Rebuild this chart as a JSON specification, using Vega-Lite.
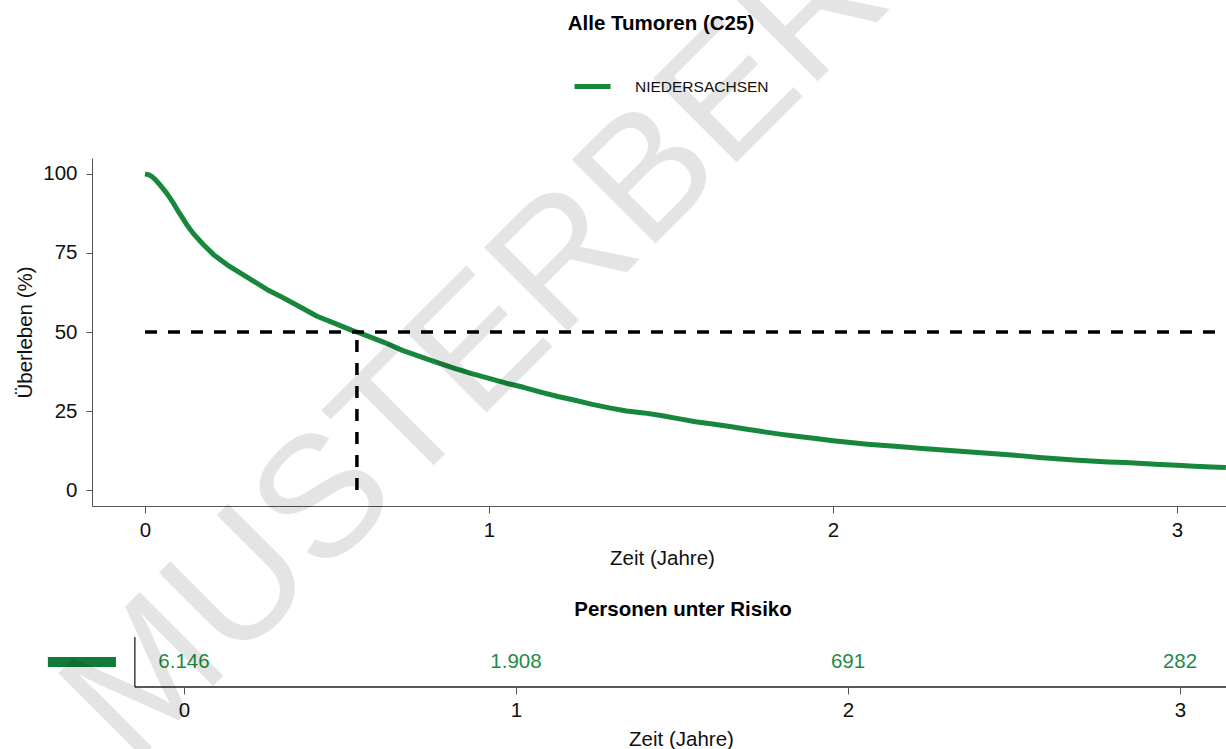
{
  "$schema": "https://vega.github.io/schema/vega-lite/v6.json",
  "background": "white",
  "autosize": {"type": "none"},
  "padding": {"left": 92, "top": 158, "right": 1134, "bottom": 591},
  "config": {
    "font": "Liberation Sans",
    "view": {"stroke": null},
    "axis": {
      "labelFont": "Liberation Sans",
      "titleFont": "Liberation Sans",
      "labelFontSize": 20.5,
      "titleFontSize": 20.5,
      "labelColor": "#111111",
      "titleColor": "#111111",
      "titleFontWeight": "normal",
      "grid": false
    }
  },
  "bounds": "flush",
  "spacing": 131,
  "datasets": {
    "km": [
      {"t": 0, "s": 100, "region": "NIEDERSACHSEN"},
      {"t": 0.01, "s": 99.8, "region": "NIEDERSACHSEN"},
      {"t": 0.02, "s": 99.2, "region": "NIEDERSACHSEN"},
      {"t": 0.03, "s": 98.2, "region": "NIEDERSACHSEN"},
      {"t": 0.04, "s": 97.0, "region": "NIEDERSACHSEN"},
      {"t": 0.05, "s": 95.7, "region": "NIEDERSACHSEN"},
      {"t": 0.064, "s": 93.8, "region": "NIEDERSACHSEN"},
      {"t": 0.08, "s": 91.2, "region": "NIEDERSACHSEN"},
      {"t": 0.1, "s": 87.6, "region": "NIEDERSACHSEN"},
      {"t": 0.12, "s": 84.2, "region": "NIEDERSACHSEN"},
      {"t": 0.14, "s": 81.2, "region": "NIEDERSACHSEN"},
      {"t": 0.17, "s": 77.6, "region": "NIEDERSACHSEN"},
      {"t": 0.2, "s": 74.4, "region": "NIEDERSACHSEN"},
      {"t": 0.24, "s": 71.2, "region": "NIEDERSACHSEN"},
      {"t": 0.28, "s": 68.5, "region": "NIEDERSACHSEN"},
      {"t": 0.32, "s": 65.8, "region": "NIEDERSACHSEN"},
      {"t": 0.36, "s": 63.1, "region": "NIEDERSACHSEN"},
      {"t": 0.4, "s": 60.9, "region": "NIEDERSACHSEN"},
      {"t": 0.45, "s": 58.0, "region": "NIEDERSACHSEN"},
      {"t": 0.5, "s": 55.0, "region": "NIEDERSACHSEN"},
      {"t": 0.55, "s": 52.8, "region": "NIEDERSACHSEN"},
      {"t": 0.6, "s": 50.6, "region": "NIEDERSACHSEN"},
      {"t": 0.616, "s": 50.0, "region": "NIEDERSACHSEN"},
      {"t": 0.65, "s": 48.6, "region": "NIEDERSACHSEN"},
      {"t": 0.7, "s": 46.5, "region": "NIEDERSACHSEN"},
      {"t": 0.75, "s": 44.1, "region": "NIEDERSACHSEN"},
      {"t": 0.8, "s": 42.2, "region": "NIEDERSACHSEN"},
      {"t": 0.85, "s": 40.3, "region": "NIEDERSACHSEN"},
      {"t": 0.9, "s": 38.5, "region": "NIEDERSACHSEN"},
      {"t": 0.95, "s": 36.8, "region": "NIEDERSACHSEN"},
      {"t": 1.0, "s": 35.3, "region": "NIEDERSACHSEN"},
      {"t": 1.05, "s": 33.8, "region": "NIEDERSACHSEN"},
      {"t": 1.1, "s": 32.5, "region": "NIEDERSACHSEN"},
      {"t": 1.15, "s": 31.0, "region": "NIEDERSACHSEN"},
      {"t": 1.2, "s": 29.6, "region": "NIEDERSACHSEN"},
      {"t": 1.25, "s": 28.4, "region": "NIEDERSACHSEN"},
      {"t": 1.3, "s": 27.1, "region": "NIEDERSACHSEN"},
      {"t": 1.35, "s": 26.0, "region": "NIEDERSACHSEN"},
      {"t": 1.4, "s": 25.0, "region": "NIEDERSACHSEN"},
      {"t": 1.45, "s": 24.4, "region": "NIEDERSACHSEN"},
      {"t": 1.5, "s": 23.6, "region": "NIEDERSACHSEN"},
      {"t": 1.55, "s": 22.6, "region": "NIEDERSACHSEN"},
      {"t": 1.6, "s": 21.6, "region": "NIEDERSACHSEN"},
      {"t": 1.65, "s": 20.9, "region": "NIEDERSACHSEN"},
      {"t": 1.7, "s": 20.1, "region": "NIEDERSACHSEN"},
      {"t": 1.75, "s": 19.2, "region": "NIEDERSACHSEN"},
      {"t": 1.8, "s": 18.4, "region": "NIEDERSACHSEN"},
      {"t": 1.85, "s": 17.6, "region": "NIEDERSACHSEN"},
      {"t": 1.9, "s": 16.9, "region": "NIEDERSACHSEN"},
      {"t": 1.95, "s": 16.3, "region": "NIEDERSACHSEN"},
      {"t": 2.0, "s": 15.6, "region": "NIEDERSACHSEN"},
      {"t": 2.05, "s": 15.0, "region": "NIEDERSACHSEN"},
      {"t": 2.1, "s": 14.5, "region": "NIEDERSACHSEN"},
      {"t": 2.15, "s": 14.1, "region": "NIEDERSACHSEN"},
      {"t": 2.2, "s": 13.7, "region": "NIEDERSACHSEN"},
      {"t": 2.25, "s": 13.2, "region": "NIEDERSACHSEN"},
      {"t": 2.3, "s": 12.8, "region": "NIEDERSACHSEN"},
      {"t": 2.35, "s": 12.4, "region": "NIEDERSACHSEN"},
      {"t": 2.4, "s": 12.0, "region": "NIEDERSACHSEN"},
      {"t": 2.45, "s": 11.6, "region": "NIEDERSACHSEN"},
      {"t": 2.5, "s": 11.2, "region": "NIEDERSACHSEN"},
      {"t": 2.55, "s": 10.8, "region": "NIEDERSACHSEN"},
      {"t": 2.6, "s": 10.3, "region": "NIEDERSACHSEN"},
      {"t": 2.65, "s": 9.9, "region": "NIEDERSACHSEN"},
      {"t": 2.7, "s": 9.5, "region": "NIEDERSACHSEN"},
      {"t": 2.75, "s": 9.2, "region": "NIEDERSACHSEN"},
      {"t": 2.8, "s": 8.9, "region": "NIEDERSACHSEN"},
      {"t": 2.85, "s": 8.7, "region": "NIEDERSACHSEN"},
      {"t": 2.9, "s": 8.4, "region": "NIEDERSACHSEN"},
      {"t": 2.95, "s": 8.1, "region": "NIEDERSACHSEN"},
      {"t": 3.0, "s": 7.8, "region": "NIEDERSACHSEN"},
      {"t": 3.05, "s": 7.5, "region": "NIEDERSACHSEN"},
      {"t": 3.1, "s": 7.3, "region": "NIEDERSACHSEN"},
      {"t": 3.142, "s": 7.1, "region": "NIEDERSACHSEN"}
    ],
    "medH": [{"t": 0, "t2": 3.1424, "s": 50}],
    "medV": [{"t": 0.616, "s": 0, "s2": 50}],
    "riskFrame": [
      {"x": -0.148, "xe": -0.148, "y": 0, "ye": 1},
      {"x": -0.148, "xe": 3.1386, "y": 0, "ye": 0}
    ],
    "riskKey": [{"x": -0.41, "xe": -0.205, "y": 0.5, "region": "NIEDERSACHSEN"}],
    "risk": [
      {"x": 0, "n": "6.146"},
      {"x": 1, "n": "1.908"},
      {"x": 2, "n": "691"},
      {"x": 3, "n": "282"}
    ],
    "watermark": [{"x": -0.1566, "y": 2.02, "label": "MUSTERBERICHT"}]
  },
  "vconcat": [
    {
      "width": 1134,
      "height": 348,
      "title": {
        "text": "Alle Tumoren (C25)",
        "frame": "group",
        "anchor": "middle",
        "dx": 2,
        "offset": 108,
        "fontSize": 20.5,
        "fontWeight": "bold",
        "font": "Liberation Sans",
        "color": "#000000",
        "baseline": "alphabetic"
      },
      "encoding": {
        "x": {
          "field": "t",
          "type": "quantitative",
          "scale": {"domain": [-0.1541, 3.1424], "nice": false, "zero": false},
          "axis": {
            "values": [0, 1, 2, 3],
            "format": "d",
            "title": "Zeit (Jahre)",
            "tickSize": 7,
            "labelPadding": 7,
            "domainColor": "#555555",
            "tickColor": "#555555",
            "titleBaseline": "alphabetic",
            "titleY": 58,
            "titleX": 570,
            "labelFlush": false,
            "labelOverlap": false
          }
        },
        "y": {
          "field": "s",
          "type": "quantitative",
          "scale": {"domain": [-5.06, 105.06], "nice": false, "zero": false},
          "axis": {
            "values": [0, 25, 50, 75, 100],
            "format": "d",
            "title": "Überleben (%)",
            "tickSize": 6,
            "labelPadding": 9,
            "domainColor": "#555555",
            "tickColor": "#555555",
            "titleBaseline": "alphabetic",
            "titleX": -61,
            "labelFlush": false,
            "labelOverlap": false
          }
        }
      },
      "layer": [
        {
          "data": {"name": "km"},
          "mark": {"type": "line", "strokeWidth": 5, "strokeCap": "butt", "strokeJoin": "round"},
          "encoding": {
            "color": {
              "field": "region",
              "type": "nominal",
              "scale": {"domain": ["NIEDERSACHSEN"], "range": ["#17873c"]},
              "legend": {
                "title": null,
                "orient": "none",
                "legendX": 480,
                "legendY": -92,
                "padding": 0,
                "symbolType": "stroke",
                "symbolSize": 1296,
                "symbolStrokeWidth": 5,
                "labelFont": "Liberation Sans",
                "labelFontSize": 15.5,
                "labelColor": "#111111",
                "labelOffset": 22
              }
            }
          }
        },
        {
          "data": {"name": "medH"},
          "mark": {"type": "rule", "color": "#000000", "strokeWidth": 3.5, "strokeDash": [12, 11]},
          "encoding": {"x2": {"field": "t2"}}
        },
        {
          "data": {"name": "medV"},
          "mark": {"type": "rule", "color": "#000000", "strokeWidth": 3.5, "strokeDash": [12, 11]},
          "encoding": {"y2": {"field": "s2"}}
        }
      ]
    },
    {
      "width": 1134,
      "height": 50,
      "title": {
        "text": "Personen unter Risiko",
        "frame": "group",
        "anchor": "middle",
        "dx": 24,
        "offset": 0,
        "fontSize": 20.5,
        "fontWeight": "bold",
        "font": "Liberation Sans",
        "color": "#000000",
        "baseline": "alphabetic"
      },
      "encoding": {
        "x": {
          "field": "x",
          "type": "quantitative",
          "scale": {"domain": [-0.2771, 3.1386], "nice": false, "zero": false},
          "axis": {
            "values": [0, 1, 2, 3],
            "format": "d",
            "title": "Zeit (Jahre)",
            "domain": false,
            "tickSize": 7,
            "labelPadding": 6,
            "tickColor": "#555555",
            "titleBaseline": "alphabetic",
            "titleY": 58,
            "titleX": 589,
            "labelFlush": false,
            "labelOverlap": false
          }
        }
      },
      "layer": [
        {
          "data": {"name": "riskFrame"},
          "mark": {"type": "rule", "color": "#222222", "strokeWidth": 1.3, "clip": false},
          "encoding": {
            "x2": {"field": "xe"},
            "y": {
              "field": "y",
              "type": "quantitative",
              "scale": {"domain": [0, 1], "nice": false, "zero": false},
              "axis": null
            },
            "y2": {"field": "ye"}
          }
        },
        {
          "data": {"name": "riskKey"},
          "mark": {"type": "rule", "color": "#117a36", "strokeWidth": 10, "strokeCap": "butt", "clip": false},
          "encoding": {
            "x2": {"field": "xe"},
            "y": {"field": "y", "type": "quantitative", "axis": null}
          }
        },
        {
          "data": {"name": "risk"},
          "mark": {"type": "text", "color": "#1f8c45", "fontSize": 20.5, "font": "Liberation Sans", "align": "center", "baseline": "middle"},
          "encoding": {
            "text": {"field": "n", "type": "nominal"}
          }
        }
      ]
    },
    {
      "width": 1134,
      "height": 50,
      "data": {"name": "watermark"},
      "mark": {"type": "text", "color": "#000000", "opacity": 0.1, "fontSize": 172, "font": "Liberation Sans", "align": "left", "baseline": "alphabetic", "angle": -45, "clip": false},
      "encoding": {
        "x": {"field": "x", "type": "quantitative", "scale": {"domain": [-0.2771, 3.1386], "nice": false, "zero": false}, "axis": null},
        "y": {"field": "y", "type": "quantitative", "scale": {"domain": [0, 1], "nice": false, "zero": false}, "axis": null},
        "text": {"field": "label", "type": "nominal"}
      }
    }
  ]
}
